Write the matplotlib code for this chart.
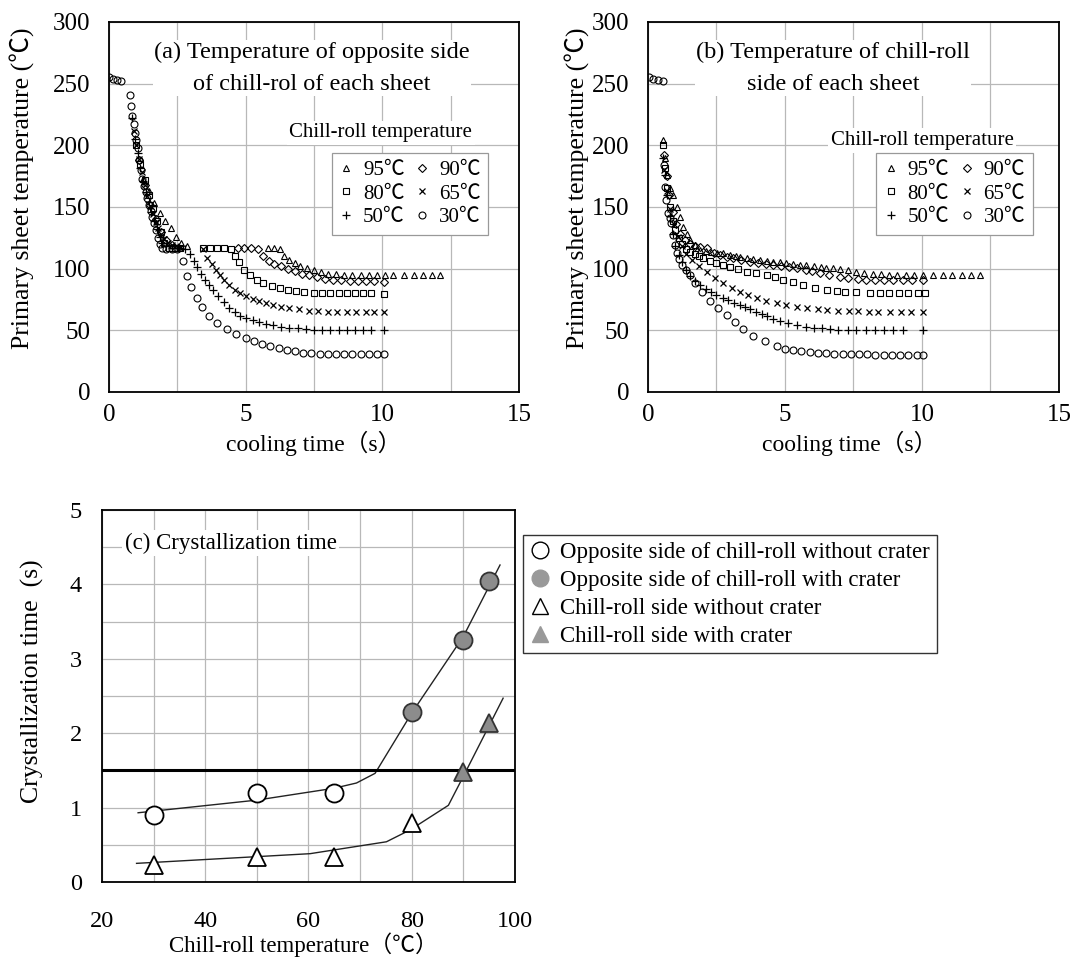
import matplotlib
matplotlib.use("Agg")
import matplotlib.pyplot as plt
from matplotlib.lines import Line2D

plt.rcParams['font.family'] = ['Liberation Serif', 'Noto Sans CJK JP', 'DejaVu Sans']

# ---------------- Panel (a): opposite side of chill-roll ----------------
a_t30 = [0.0, 0.15, 0.3, 0.45, 0.75, 0.8, 0.85, 0.9, 0.95, 1.0, 1.05, 1.1, 1.16, 1.22,
         1.28, 1.34, 1.4, 1.46, 1.52, 1.58, 1.64, 1.7, 1.78, 1.86, 1.95, 2.1, 2.3, 2.5,
         2.72, 2.84, 3.0, 3.2, 3.4, 3.65, 3.95, 4.3, 4.65, 5.0, 5.3, 5.6, 5.9, 6.2, 6.5,
         6.8, 7.1, 7.4, 7.7, 8.0, 8.3, 8.6, 8.9, 9.2, 9.5, 9.8, 10.05]
a_T30 = [255, 254, 253, 252, 241, 232, 224, 217, 210, 204, 198, 188, 180, 173,
         167, 162, 157, 152, 147, 142, 137, 131, 125, 120, 117, 116, 116, 116,
         106, 94, 85, 76, 69, 62, 56, 51, 47, 43.5, 41, 39, 37, 35.5, 34,
         33, 32, 31.5, 31, 31, 31, 30.5, 30.5, 30.5, 30.5, 30.5, 30.5]

a_t50 = [0.85, 0.95, 1.05, 1.15, 1.25, 1.35, 1.45, 1.55, 1.65, 1.75, 1.85, 1.95,
         2.1, 2.3, 2.55, 2.78, 2.95, 3.1, 3.22, 3.35, 3.5, 3.65, 3.8, 4.0, 4.2, 4.4, 4.6,
         4.8, 5.0, 5.25, 5.5, 5.75, 6.0, 6.3, 6.6, 6.9, 7.2, 7.5, 7.8, 8.1, 8.4, 8.7,
         9.0, 9.3, 9.6, 10.05]
a_T50 = [222, 205, 194, 182, 171, 162, 154, 146, 139, 132, 126, 121,
         118, 117, 117, 116, 112, 106, 101, 96, 91, 87, 83, 78, 73, 68, 65,
         62, 60, 58, 56.5, 55, 54, 53, 52, 51.5, 51, 50.5, 50.5, 50, 50, 50,
         50, 50, 50, 50]

a_t65 = [0.9, 1.0, 1.1, 1.2, 1.3, 1.4, 1.5, 1.6, 1.7, 1.8, 1.9, 2.0, 2.15, 2.3, 2.45, 2.6,
         3.45, 3.6, 3.75, 3.9, 4.05, 4.2, 4.4, 4.6, 4.8, 5.0, 5.25, 5.5, 5.75, 6.0, 6.3,
         6.6, 6.95, 7.3, 7.65, 8.0, 8.35, 8.7, 9.05, 9.4, 9.7, 10.05]
a_T65 = [212, 200, 189, 178, 168, 159, 151, 144, 138, 133, 128, 124, 121, 119, 118, 117,
         116, 109, 104, 99, 95, 91, 87, 83, 80, 77.5, 75.5, 73.5, 72, 70.5, 69,
         68, 67, 66, 65.5, 65, 64.5, 64.5, 64.5, 64.5, 64.5, 64.5]

a_t80 = [1.0, 1.15, 1.3, 1.45, 1.6, 1.75, 1.9, 2.02, 2.2, 2.4, 2.6,
         3.45, 3.7, 3.95, 4.2, 4.45, 4.6, 4.75, 4.95, 5.15, 5.4, 5.65, 5.95, 6.25, 6.55,
         6.85, 7.15, 7.5, 7.8, 8.1, 8.4, 8.7, 9.0, 9.3, 9.6, 10.05]
a_T80 = [200, 185, 172, 160, 149, 139, 130, 121, 117, 117, 117,
         117, 117, 117, 117, 116, 110, 105, 99, 95, 91, 88.5, 86, 84, 82.5,
         81.5, 81, 80.5, 80, 80, 80, 80, 80, 80, 80, 79.5]

a_t90 = [1.1, 1.3, 1.5, 1.7, 1.9, 2.1, 2.3, 4.7, 4.95, 5.2, 5.45, 5.65, 5.85, 6.05, 6.3,
         6.55, 6.8, 7.05, 7.3, 7.6, 7.9, 8.2, 8.5, 8.8, 9.1, 9.4, 9.7, 10.05]
a_T90 = [188, 168, 152, 140, 130, 123, 119, 117, 117, 117, 116, 110, 106, 104, 102,
         100, 98, 96, 94.5, 93, 92, 91, 90.5, 90, 90, 90, 90, 89.5]

a_t95 = [1.25, 1.45, 1.65, 1.85, 2.05, 2.25, 2.45, 2.65, 2.85, 5.8, 6.05, 6.25,
         6.4, 6.6, 6.8, 7.0, 7.25, 7.5, 7.75, 8.0, 8.3, 8.6, 8.9, 9.2, 9.5, 9.8, 10.1,
         10.4, 10.8, 11.15, 11.5, 11.8, 12.1]
a_T95 = [173, 163, 153, 145, 139, 133, 126, 121, 118, 117, 117, 116,
         110, 107, 104.5, 102.5, 100.5, 98.5, 97, 96, 95.5, 95, 95, 95, 95, 95, 95,
         94.5, 94.5, 94.5, 94.5, 94.5, 94.5]

# ---------------- Panel (b): chill-roll side ----------------
b_t30 = [0.05, 0.2, 0.35, 0.55, 0.57, 0.62, 0.67, 0.73, 0.79, 0.85, 0.91, 0.97, 1.05, 1.14,
         1.23, 1.38, 1.53, 1.72, 1.96, 2.26, 2.57, 2.87, 3.18, 3.48, 3.84, 4.27, 4.7,
         5.0, 5.3, 5.6, 5.9, 6.2, 6.5, 6.8, 7.1, 7.4, 7.7, 8.0, 8.3, 8.6, 8.9, 9.2,
         9.5, 9.8, 10.05]
b_T30 = [255, 254, 253, 252, 184, 166, 156, 145, 141, 137, 127, 119, 113, 108,
         103, 99, 95, 88, 81, 74, 68, 62.5, 57, 51, 45.5, 41, 37,
         35, 34, 33, 32.5, 32, 31.5, 31, 31, 30.5, 30.5, 30.5, 30, 30, 30, 30,
         30, 30, 30]

b_t50 = [0.56, 0.62, 0.7, 0.8, 0.9, 1.0, 1.12, 1.25, 1.4, 1.55, 1.72, 1.9, 2.1, 2.3,
         2.5, 2.72, 2.93, 3.15, 3.36, 3.55, 3.72, 3.95, 4.15, 4.33, 4.58, 4.82, 5.1,
         5.43, 5.75, 6.05, 6.35, 6.65, 6.95, 7.3, 7.6, 7.95, 8.3, 8.6, 8.95, 9.3,
         10.05]
b_T50 = [190, 176, 160, 143, 128, 118, 111, 105, 99, 94, 90, 86.5, 83.5, 81,
         79, 76.5, 74.5, 72.5, 70.5, 68.5, 67, 65, 63, 61.5, 59.5, 57.5, 56,
         54.5, 53, 52, 51.5, 51, 50.5, 50.5, 50.3, 50, 50, 50, 50, 50,
         50]

b_t65 = [0.6, 0.7, 0.82, 0.95, 1.1, 1.25, 1.4, 1.6, 1.85, 2.14, 2.45, 2.75, 3.05, 3.36,
         3.65, 3.97, 4.3, 4.7, 5.05, 5.43, 5.8, 6.2, 6.55, 6.95, 7.35, 7.65, 8.05,
         8.4, 8.85, 9.25, 9.6, 10.05]
b_T65 = [180, 163, 148, 136, 126, 118, 112, 107, 102, 97.6, 92.5, 88, 84.5, 81.3,
         78.5, 76, 74, 72, 70.5, 69.2, 68.3, 67.5, 66.5, 66, 65.5, 65.3, 65.1,
         65, 65, 65, 65, 65]

b_t80 = [0.55, 0.62, 0.7, 0.8, 0.9, 1.0, 1.12, 1.25, 1.4, 1.55, 1.7, 1.85, 2.02, 2.25,
         2.5, 2.75, 3.0, 3.3, 3.6, 3.95, 4.33, 4.65, 4.94, 5.3, 5.67, 6.1, 6.52, 6.9,
         7.2, 7.6, 8.1, 8.45, 8.8, 9.15, 9.5, 9.85, 10.1]
b_T80 = [200, 182, 165, 150, 139, 131, 125, 120, 116, 113.5, 111.5, 110, 108.4, 106,
         104.3, 103, 101.6, 99.5, 97.6, 96.2, 94.9, 93, 90.8, 89, 86.8, 84.5, 82.7, 81.8,
         81.2, 80.8, 80.5, 80.5, 80.5, 80.5, 80.5, 80.5, 80.5]

b_t90 = [0.6, 0.68, 0.78, 0.9, 1.03, 1.18, 1.35, 1.52, 1.7, 1.9, 2.14, 2.4, 2.62, 2.87,
         3.12, 3.4, 3.72, 4.0, 4.3, 4.57, 4.85, 5.15, 5.43, 5.75, 6.0, 6.28, 6.6, 7.0,
         7.3, 7.65, 7.95, 8.3, 8.6, 8.95, 9.3, 9.65, 10.05]
b_T90 = [192, 175, 160, 146, 136, 128, 123, 120, 118.5, 117.5, 116.5, 113, 111, 109.7,
         108.5, 107, 105.6, 104.5, 103.8, 103, 102, 101, 100.3, 99, 98, 96.2, 94.8, 93.5,
         92.5, 91.5, 91, 90.8, 90.5, 90.5, 90.5, 90.5, 90.5]

b_t95 = [0.55, 0.62, 0.7, 0.8, 0.92, 1.05, 1.17, 1.29, 1.41, 1.53, 1.7, 1.9, 2.1, 2.3,
         2.52, 2.75, 3.0, 3.2, 3.36, 3.6, 3.85, 4.1, 4.35, 4.57, 4.8, 5.05, 5.3, 5.55,
         5.78, 6.05, 6.3, 6.5, 6.75, 7.0, 7.3, 7.6, 7.9, 8.2, 8.5, 8.8, 9.1, 9.4, 9.7,
         10.05, 10.4, 10.75, 11.1, 11.45, 11.8, 12.1]
b_T95 = [204, 190, 176, 165, 160, 150, 142, 134, 128, 123, 119, 115, 114, 113.5,
         113, 112.4, 111, 110.5, 109.7, 109, 108, 107, 106.3, 105.6, 105, 104.3, 103.7, 103.2,
         103, 102, 101.3, 100.8, 100.3, 99.5, 98.5, 97.6, 96.5, 95.8, 95.3, 95, 95, 95, 95,
         95, 95, 95, 95, 95, 95, 95]

series_labels = ['95℃', '90℃', '80℃', '65℃', '50℃', '30℃']

# ---------------- Panel (c): crystallization time ----------------
c_open_circle_x = [30, 50, 65]
c_open_circle_y = [0.9, 1.19, 1.19]
c_fill_circle_x = [80, 90, 95]
c_fill_circle_y = [2.29, 3.25, 4.05]
c_open_tri_x = [30, 50, 65, 80]
c_open_tri_y = [0.23, 0.34, 0.34, 0.79]
c_fill_tri_x = [90, 95]
c_fill_tri_y = [1.48, 2.13]
c_upper_fit_x = [27, 50, 65, 69.3, 72.9, 80, 90, 97.1]
c_upper_fit_y = [0.93, 1.10, 1.26, 1.33, 1.46, 2.27, 3.30, 4.26]
c_lower_fit_x = [26.7, 60.3, 75.1, 79.7, 87.1, 90, 97.7]
c_lower_fit_y = [0.25, 0.38, 0.54, 0.70, 1.03, 1.42, 2.47]
c_threshold = 1.5
c_legend_labels = ['Opposite side of chill-roll without crater',
                   'Opposite side of chill-roll with crater',
                   'Chill-roll side without crater',
                   'Chill-roll side with crater']

# ---------------- Drawing ----------------
fig = plt.figure(figsize=(10.7, 9.6), dpi=100)
fig.patch.set_facecolor('white')

GRID = '#b8b8b8'
TICK_FS = 18
LAB_FS = 18.5
XLAB_FS = 17

marker_specs = [('^', 4.5, 0.8), ('D', 3.6, 0.8), ('s', 4.6, 0.8),
                ('x', 5.0, 0.9), ('+', 6.0, 0.9), ('o', 5.0, 0.8)]


def temp_panel(ax, data, title, title_x, leg_x, leg_title_x, leg_title_y):
    for (t, T), (m, ms, mew), lab in zip(data, marker_specs, series_labels):
        ax.plot(t, T, linestyle='none', marker=m, markersize=ms, markeredgewidth=mew,
                markerfacecolor='none', markeredgecolor='black', color='black', label=lab)
    ax.set_xlim(0, 15)
    ax.set_ylim(0, 300)
    ax.set_xticks([0, 2.5, 5, 7.5, 10, 12.5, 15])
    ax.set_xticklabels(['0', '', '5', '', '10', '', '15'])
    ax.set_yticks([0, 50, 100, 150, 200, 250, 300])
    ax.grid(True, color=GRID, linewidth=0.9)
    ax.set_axisbelow(True)
    ax.tick_params(length=0, labelsize=TICK_FS)
    ax.tick_params(axis='x', pad=9)
    ax.tick_params(axis='y', pad=13.5)
    for s in ax.spines.values():
        s.set_linewidth(1.3)
    ax.set_ylabel('Primary sheet temperature (℃)', fontsize=LAB_FS)
    ax.set_xlabel('cooling time（s）', fontsize=XLAB_FS)
    ax.text(title_x, 0.875, title, transform=ax.transAxes, ha='center', va='center',
            fontsize=17.5, linespacing=1.7,
            bbox=dict(facecolor='white', edgecolor='none', pad=1))
    ax.text(leg_title_x, leg_title_y, 'Chill-roll temperature', transform=ax.transAxes,
            ha='center', va='center', fontsize=15,
            bbox=dict(facecolor='white', edgecolor='none', pad=2))
    handles, labels = ax.get_legend_handles_labels()
    order = [0, 2, 4, 1, 3, 5]
    leg = ax.legend([handles[i] for i in order], [labels[i] for i in order], ncol=2,
                    loc='upper left', bbox_to_anchor=(leg_x, 0.646), fontsize=15,
                    frameon=True, fancybox=False, framealpha=1, edgecolor='#999999',
                    handlelength=0.7, handletextpad=0.45, columnspacing=0.5,
                    labelspacing=0.2, borderpad=0.35, borderaxespad=0)
    leg.get_frame().set_linewidth(0.9)


axA = fig.add_axes([0.1019, 0.5917, 0.3832, 0.3854])
temp_panel(axA, [(a_t95, a_T95), (a_t90, a_T90), (a_t80, a_T80), (a_t65, a_T65),
                 (a_t50, a_T50), (a_t30, a_T30)],
           '(a) Temperature of opposite side\nof chill-rol of each sheet', 0.495, 0.543,
           0.663, 0.70)
axA.yaxis.set_label_coords(-0.18, 0.55)
axA.xaxis.set_label_coords(0.5, -0.105)

axB = fig.add_axes([0.6056, 0.5917, 0.3841, 0.3854])
temp_panel(axB, [(b_t95, b_T95), (b_t90, b_T90), (b_t80, b_T80), (b_t65, b_T65),
                 (b_t50, b_T50), (b_t30, b_T30)],
           '(b) Temperature of chill-roll\nside of each sheet', 0.45, 0.555, 0.667, 0.68)
axB.yaxis.set_label_coords(-0.14, 0.55)
axB.xaxis.set_label_coords(0.49, -0.105)

axC = fig.add_axes([0.0953, 0.0813, 0.386, 0.3875])
GRAY = '#8c8c8c'
axC.plot(c_upper_fit_x, c_upper_fit_y, color='#222222', linewidth=1.0)
axC.plot(c_lower_fit_x, c_lower_fit_y, color='#222222', linewidth=1.0)
axC.axhline(c_threshold, color='black', linewidth=2.2)
axC.plot(c_open_circle_x, c_open_circle_y, linestyle='none', marker='o', markersize=13,
         markerfacecolor='white', markeredgecolor='black', markeredgewidth=1.3)
axC.plot(c_fill_circle_x, c_fill_circle_y, linestyle='none', marker='o', markersize=13,
         markerfacecolor=GRAY, markeredgecolor='#333333', markeredgewidth=1.3)
axC.plot(c_open_tri_x, c_open_tri_y, linestyle='none', marker='^', markersize=13,
         markerfacecolor='white', markeredgecolor='black', markeredgewidth=1.3)
axC.plot(c_fill_tri_x, c_fill_tri_y, linestyle='none', marker='^', markersize=13,
         markerfacecolor=GRAY, markeredgecolor='#333333', markeredgewidth=1.3)
axC.set_xlim(20, 100)
axC.set_ylim(0, 5)
axC.set_xticks(list(range(20, 101, 10)))
axC.set_xticklabels(['20', '', '40', '', '60', '', '80', '', '100'])
axC.set_yticks([i * 0.5 for i in range(11)])
axC.set_yticklabels(['0', '', '1', '', '2', '', '3', '', '4', '', '5'])
axC.grid(True, color=GRID, linewidth=0.9)
axC.set_axisbelow(True)
axC.tick_params(length=0, labelsize=17.5)
axC.tick_params(axis='x', pad=21)
axC.tick_params(axis='y', pad=14.5)
for s in axC.spines.values():
    s.set_linewidth(1.3)
axC.set_ylabel('Crystallization time  (s)', fontsize=LAB_FS)
axC.set_xlabel('Chill-roll temperature（℃）', fontsize=16.5)
axC.yaxis.set_label_coords(-0.14, 0.54)
axC.xaxis.set_label_coords(0.487, -0.135)
axC.text(0.055, 0.911, '(c) Crystallization time', transform=axC.transAxes,
         ha='left', va='center', fontsize=16.5,
         bbox=dict(facecolor='white', edgecolor='none', pad=2))

LEG_GRAY = '#999999'
c_handles = [
    Line2D([], [], linestyle='none', marker='o', markersize=12, markerfacecolor='white',
           markeredgecolor='black', markeredgewidth=1.0),
    Line2D([], [], linestyle='none', marker='o', markersize=12, markerfacecolor=LEG_GRAY,
           markeredgecolor=LEG_GRAY, markeredgewidth=1.0),
    Line2D([], [], linestyle='none', marker='^', markersize=12, markerfacecolor='white',
           markeredgecolor='black', markeredgewidth=1.0),
    Line2D([], [], linestyle='none', marker='^', markersize=12, markerfacecolor=LEG_GRAY,
           markeredgecolor=LEG_GRAY, markeredgewidth=1.0),
]
legC = axC.legend(c_handles, c_legend_labels, loc='upper left',
                  bbox_to_anchor=(1.02, 0.933), fontsize=16.5, frameon=True, fancybox=False,
                  framealpha=1, edgecolor='#333333', handlelength=0.9, handletextpad=0.4,
                  labelspacing=0.3, borderpad=0.3, borderaxespad=0)
legC.get_frame().set_linewidth(1.0)

fig.savefig('out.png', dpi=100, facecolor='white')
